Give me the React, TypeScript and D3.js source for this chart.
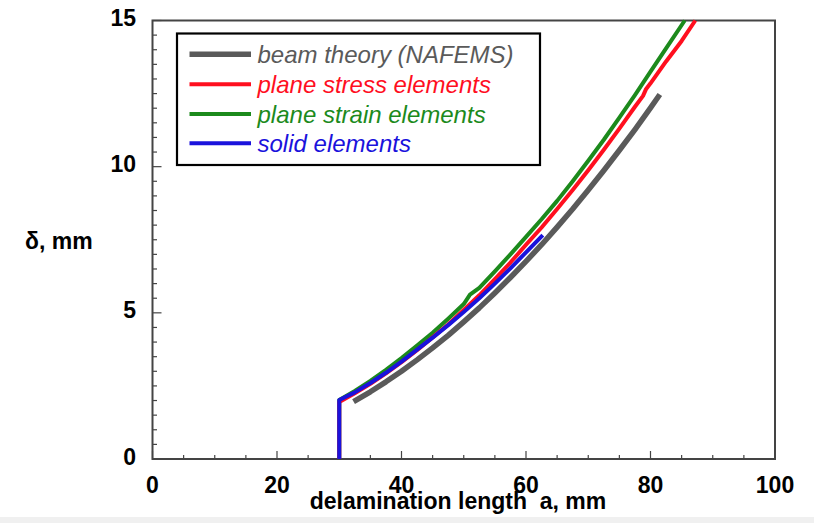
import React from "react";
import * as d3 from "d3";

const xTicks = [0, 20, 40, 60, 80, 100];
const yTicks = [0, 5, 10, 15];

const beamA = [32.3, 35, 37.5, 40, 42.5, 45, 47.5, 50, 52.5, 55, 57.5, 60, 62.5, 65, 67.5, 70, 72.5, 75, 77.5, 80, 81.5];
const beamD = [1.96, 2.3, 2.64, 3.0, 3.39, 3.8, 4.23, 4.69, 5.17, 5.68, 6.21, 6.76, 7.33, 7.93, 8.55, 9.2, 9.87, 10.56, 11.27, 12.01, 12.47];

const stressA = [30, 30, 32.5, 35, 37.5, 40, 42.5, 45, 47.5, 50, 52.5, 55, 57.5, 60, 62.5, 65, 67.5, 70, 72.5, 75, 77.5, 78.8, 79.3, 80, 82.5, 85, 87.2];
const stressD = [0, 1.95, 2.25, 2.57, 2.93, 3.31, 3.72, 4.16, 4.6, 5.1, 5.6, 6.15, 6.72, 7.33, 7.92, 8.55, 9.2, 9.88, 10.58, 11.3, 12.05, 12.42, 12.66, 12.85, 13.6, 14.3, 15.0];

const strainA = [30, 30, 32.5, 35, 37.5, 40, 42.5, 45, 47.5, 50, 51, 52.5, 55, 57.5, 60, 62.5, 65, 67.5, 70, 72.5, 75, 77.5, 80, 82.5, 85.5];
const strainD = [0, 2.02, 2.33, 2.67, 3.05, 3.45, 3.88, 4.32, 4.8, 5.3, 5.62, 5.85, 6.42, 7.0, 7.6, 8.2, 8.83, 9.5, 10.2, 10.92, 11.68, 12.45, 13.25, 14.05, 15.0];

const solidA = [30, 30, 32.5, 35, 37.5, 40, 42.5, 45, 47.5, 50, 52.5, 55, 57.5, 60, 62.7];
const solidD = [0, 2.02, 2.28, 2.6, 2.95, 3.33, 3.74, 4.15, 4.58, 5.03, 5.5, 6.0, 6.52, 7.07, 7.66];

const legendLabels = ["beam theory (NAFEMS)", "plane stress elements", "plane strain elements", "solid elements"];
const seriesColors = ["#5a5a5a", "#ff0f1f", "#1c8a1c", "#1a12dc"];

const W = 814;
const H = 523;

export default function App() {
  const x = d3.scaleLinear().domain([0, 100]).range([152.5, 775]);
  const y = d3.scaleLinear().domain([0, 15]).range([459, 20.5]);
  const line = d3
    .line<[number, number]>()
    .x((d) => x(d[0]))
    .y((d) => y(d[1]));

  const zip = (a: number[], b: number[]) => a.map((v, i) => [v, b[i]] as [number, number]);

  const series = [
    { data: zip(beamA, beamD), color: seriesColors[0], w: 5.5 },
    { data: zip(strainA, strainD), color: seriesColors[2], w: 4 },
    { data: zip(stressA, stressD), color: seriesColors[1], w: 4 },
    { data: zip(solidA, solidD), color: seriesColors[3], w: 4 },
  ];

  const xMinor = d3.range(0, 100.01, 5);
  const yMinor = d3.range(0, 15.01, 0.5);
  const font = "'Liberation Sans', Arial, Helvetica, sans-serif";
  const frame = "#444";

  const legendRows = [54.3, 84.3, 114, 143.3];

  return (
    <svg
      width={W}
      height={H}
      style={{ position: "absolute", left: 0, top: 0, background: "#fff" }}
      fontFamily={font}
    >
      <rect x={0} y={517} width={W} height={6} fill="#f0f0f0" />
      {/* ticks */}
      {xMinor.map((v) => {
        const major = v % 20 === 0;
        return (
          <line key={"xt" + v} x1={x(v)} x2={x(v)} y1={y(0)} y2={y(0) - (major ? 8 : 4)} stroke={frame} strokeWidth={1.2} />
        );
      })}
      {yMinor.map((v) => {
        const major = Math.abs(v % 5) < 1e-9;
        return (
          <line key={"yt" + v} x1={x(0)} x2={x(0) + (major ? 9 : 4.5)} y1={y(v)} y2={y(v)} stroke={frame} strokeWidth={1.2} />
        );
      })}
      <rect x={x(0)} y={y(15)} width={x(100) - x(0)} height={y(0) - y(15)} fill="none" stroke={frame} strokeWidth={2} />

      {/* tick labels */}
      {xTicks.map((v) => (
        <text key={"xl" + v} x={x(v)} y={493} textAnchor="middle" fontSize={23} fontWeight="bold" fill="#000">
          {v}
        </text>
      ))}
      {yTicks.map((v) => (
        <text key={"yl" + v} x={136} y={y(v) + 5.5} textAnchor="end" fontSize={23} fontWeight="bold" fill="#000">
          {v}
        </text>
      ))}
      <text x={458} y={509} textAnchor="middle" fontSize={23} fontWeight="bold" fill="#000">
        delamination length{"\u00a0\u00a0"}a, mm
      </text>
      <text x={25} y={248.5} fontSize={23} fontWeight="bold" fill="#000">
        δ, mm
      </text>

      {/* series */}
      {series.map((s, i) => (
        <path key={"s" + i} d={line(s.data) || ""} fill="none" stroke={s.color} strokeWidth={s.w} strokeLinejoin="round" strokeLinecap="butt" />
      ))}

      {/* legend */}
      <rect x={177} y={33.5} width={363} height={131.5} fill="#fff" stroke="#000" strokeWidth={2.2} />
      {legendLabels.map((lab, i) => (
        <g key={"lg" + i}>
          <line x1={189.5} x2={251} y1={legendRows[i]} y2={legendRows[i]} stroke={seriesColors[i]} strokeWidth={i === 0 ? 5.5 : 4} />
          <text x={257.5} y={legendRows[i] + 9} fontSize={24} fontStyle="italic" fill={seriesColors[i]}>
            {lab}
          </text>
        </g>
      ))}
    </svg>
  );
}
